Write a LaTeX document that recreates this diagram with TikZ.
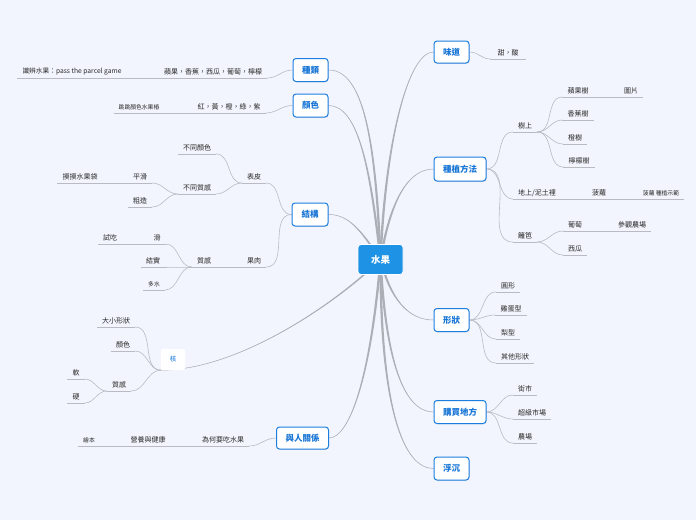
\documentclass[tikz,border=0pt]{standalone}
\usepackage{fontspec}
\setmainfont{Noto Sans CJK TC}
\usetikzlibrary{shadows}
\definecolor{bgc}{RGB}{242,245,253}
\definecolor{rootc}{RGB}{30,146,228}
\definecolor{topb}{RGB}{28,126,222}
\definecolor{topt}{RGB}{24,118,214}
\definecolor{linec}{RGB}{172,175,182}
\definecolor{txt}{RGB}{40,40,40}
\pgfdeclarelayer{back}
\pgfsetlayers{back,main}
\tikzset{
 rootbox/.style={fill=rootc, draw=white, line width=0.8pt, rounded corners=3pt, text=white, font=\fontsize{9.5}{11}\selectfont\bfseries, minimum width=45pt, minimum height=30pt, inner sep=0pt},
 topic/.style={fill=white, draw=topb, line width=1pt, rounded corners=3pt, text=topt, font=\fontsize{8.5}{10}\selectfont\bfseries, minimum height=22pt, inner sep=0pt, drop shadow={opacity=0.2,shadow xshift=0.6pt,shadow yshift=-0.8pt}},
 sub/.style={anchor=south, font=\fontsize{7}{8}\selectfont, text=txt, inner xsep=5pt, inner ysep=2.5pt},
 small/.style={sub, font=\fontsize{5.8}{7}\selectfont},
 mc/.style={draw=linec, line width=0.5pt},
 sc/.style={draw=linec!85, line width=0.6pt},
 ul/.style={draw=linec!85, line width=0.6pt},
}
% tapered main link: target, control from root, control at target
\newcommand\mainlink[3]{%
 \fill[linec] ([xshift=-1.2pt]root.center) .. controls +(#2) and +(#3) .. (#1)
   .. controls +(#3) and +(#2) .. ([xshift=1.2pt]root.center) -- cycle;
 \draw[mc] (root.center) .. controls +(#2) and +(#3) .. (#1);}
\begin{document}
\begin{tikzpicture}[x=1pt,y=1pt]
% main nodes
\node[rootbox] (root) at (380.5,-259.5) {水果};
\node[topic, minimum width=35pt, minimum height=23pt] (zl) at (310.5,-70) {種類};
\node[topic, minimum width=35pt, minimum height=23pt] (ys) at (310.5,-105.5) {顏色};
\node[topic, minimum width=36pt, minimum height=23pt] (jg) at (310,-214.5) {結構};
\node[fill=white, rounded corners=2pt, minimum width=24pt, minimum height=21pt, inner sep=0pt, text=topt, font=\fontsize{6.5}{8}\selectfont] (he) at (173,-359.5) {核};
\node[topic, minimum width=52pt] (rr) at (302.5,-438) {與人關係};
\node[topic, minimum width=35pt] (wd) at (451.5,-52) {味道};
\node[topic, minimum width=52pt, minimum height=24pt] (zz) at (460,-169) {種植方法};
\node[topic, minimum width=35pt, minimum height=23pt] (xz) at (451.5,-320) {形狀};
\node[topic, minimum width=52pt, minimum height=23pt] (gm) at (460,-412) {購買地方};
\node[topic, minimum width=35pt, minimum height=23pt] (fc) at (451.5,-468.5) {浮沉};
% left subtopics
\node[sub] (zl1) at (213,-78) {蘋果，香蕉，西瓜，葡萄，檸檬};
\node[sub, font=\fontsize{6.7}{8}\selectfont] (zl2) at (72,-78) {識辨水果：pass the parcel game};
\node[sub] (ys1) at (229,-113) {紅，黃，橙，綠，紫};
\node[small] (ys2) at (139,-113) {跳跳顏色水果樁};
\node[sub] (bp) at (254,-183) {表皮};
\node[sub] (bt1) at (197,-154) {不同顏色};
\node[sub] (bt2) at (197,-194) {不同質感};
\node[sub] (ph) at (140,-183) {平滑};
\node[sub] (mm) at (80,-183) {摸摸水果袋};
\node[sub] (cz) at (140,-207) {粗造};
\node[sub] (gr) at (254,-267) {果肉};
\node[sub] (zg) at (204,-267) {質感};
\node[sub] (hu) at (157,-244) {滑};
\node[sub] (sc) at (110,-244) {試吃};
\node[sub] (js) at (153,-267) {結實};
\node[small] (ds) at (154,-290) {多水};
\node[sub] (dx) at (116,-327) {大小形狀};
\node[sub] (hy) at (123,-351) {顏色};
\node[sub] (hz) at (119,-391) {質感};
\node[sub] (ru) at (76,-379) {軟};
\node[sub] (yg) at (76,-403) {硬};
\node[sub] (wh) at (223,-446) {為何要吃水果};
\node[sub] (yy) at (148,-446) {營養與健康};
\node[small] (hb) at (89,-446) {繪本};
% right subtopics
\node[sub, inner xsep=7pt] (tsu) at (508,-59) {甜，酸};
\node[sub] (sh) at (525,-132) {樹上};
\node[sub] (pgs) at (578,-97) {蘋果樹};
\node[sub] (tp) at (631,-97) {圖片};
\node[sub] (xjs) at (578,-120) {香蕉樹};
\node[sub] (cs) at (575,-144) {橙樹};
\node[sub] (nms) at (579,-167) {檸檬樹};
\node[sub] (dsl) at (537,-199) {地上/泥土裡};
\node[sub] (bl) at (599,-199) {菠蘿};
\node[small] (blz) at (661,-199) {菠蘿 種植示範};
\node[sub] (lb) at (525,-242) {籬笆};
\node[sub] (pt) at (575,-231) {葡萄};
\node[sub] (cg) at (632,-231) {參觀農場};
\node[sub] (xg) at (575,-255) {西瓜};
\node[sub] (yx) at (508,-292) {圓形};
\node[sub] (jd) at (511,-315) {雞蛋型};
\node[sub] (lx) at (508,-339) {梨型};
\node[sub] (qt) at (515,-363) {其他形狀};
\node[sub] (jsh) at (525,-395) {街市};
\node[sub] (cj) at (532,-419) {超級市場};
\node[sub] (nc) at (525,-443) {農場};
% underlines
\foreach \n in {zl1,zl2,ys1,ys2,bp,bt1,bt2,ph,mm,cz,gr,zg,hu,sc,js,ds,dx,hy,hz,ru,yg,wh,yy,hb,tsu,sh,pgs,tp,xjs,cs,nms,dsl,bl,blz,lb,pt,cg,xg,yx,jd,lx,qt,jsh,cj,nc}
  \draw[ul] (\n.south west) -- (\n.south east);
\begin{pgfonlayer}{back}
\fill[bgc] (0,0) rectangle (696,-520);
% root connectors
\mainlink{zl.east}{-5,120}{35,0}
\mainlink{ys.east}{-10,90}{30,0}
\mainlink{jg.east}{-20,30}{20,0}
\mainlink{he.south west}{-40,-40}{80,0}
\mainlink{rr.east}{-10,-120}{20,0}
\mainlink{wd.west}{5,120}{-25,0}
\mainlink{zz.west}{10,60}{-25,0}
\mainlink{xz.west}{10,-40}{-25,0}
\mainlink{gm.west}{5,-100}{-30,0}
\mainlink{fc.west}{0,-150}{-30,0}
% left sub connectors
\draw[sc] (zl.west) to[out=180,in=0] (zl1.south east);
\draw[sc] (zl1.south west) -- (zl2.south east);
\draw[sc] (ys.west) to[out=180,in=0] (ys1.south east);
\draw[sc] (ys1.south west) -- (ys2.south east);
\draw[sc] (jg.west) to[out=180,in=0] (bp.south east);
\draw[sc] (jg.west) to[out=180,in=0] (gr.south east);
\draw[sc] (bp.south west) to[out=180,in=0] (bt1.south east);
\draw[sc] (bp.south west) to[out=180,in=0] (bt2.south east);
\draw[sc] (bt2.south west) to[out=180,in=0] (ph.south east);
\draw[sc] (bt2.south west) to[out=180,in=0] (cz.south east);
\draw[sc] (ph.south west) -- (mm.south east);
\draw[sc] (gr.south west) -- (zg.south east);
\draw[sc] (zg.south west) to[out=180,in=0] (hu.south east);
\draw[sc] (zg.south west) to[out=180,in=0] (js.south east);
\draw[sc] (zg.south west) to[out=180,in=0] (ds.south east);
\draw[sc] (hu.south west) -- (sc.south east);
\draw[sc] (he.south west) to[out=180,in=0] (dx.south east);
\draw[sc] (he.south west) to[out=180,in=0] (hy.south east);
\draw[sc] (he.south west) to[out=180,in=0] (hz.south east);
\draw[sc] (hz.south west) to[out=180,in=0] (ru.south east);
\draw[sc] (hz.south west) to[out=180,in=0] (yg.south east);
\draw[sc] (rr.west) to[out=180,in=0] (wh.south east);
\draw[sc] (wh.south west) -- (yy.south east);
\draw[sc] (yy.south west) -- (hb.south east);
% right sub connectors
\draw[sc] (wd.east) to[out=0,in=180] (tsu.south west);
\draw[sc] (zz.east) to[out=0,in=180] (sh.south west);
\draw[sc] (zz.east) to[out=0,in=180] (dsl.south west);
\draw[sc] (zz.east) to[out=0,in=180] (lb.south west);
\draw[sc] (sh.south east) to[out=0,in=180] (pgs.south west);
\draw[sc] (sh.south east) to[out=0,in=180] (xjs.south west);
\draw[sc] (sh.south east) to[out=0,in=180] (cs.south west);
\draw[sc] (sh.south east) to[out=0,in=180] (nms.south west);
\draw[sc] (pgs.south east) -- (tp.south west);
\draw[sc] (dsl.south east) -- (bl.south west);
\draw[sc] (bl.south east) -- (blz.south west);
\draw[sc] (lb.south east) to[out=0,in=180] (pt.south west);
\draw[sc] (lb.south east) to[out=0,in=180] (xg.south west);
\draw[sc] (pt.south east) -- (cg.south west);
\draw[sc] (xz.east) to[out=0,in=180] (yx.south west);
\draw[sc] (xz.east) to[out=0,in=180] (jd.south west);
\draw[sc] (xz.east) to[out=0,in=180] (lx.south west);
\draw[sc] (xz.east) to[out=0,in=180] (qt.south west);
\draw[sc] (gm.east) to[out=0,in=180] (jsh.south west);
\draw[sc] (gm.east) to[out=0,in=180] (cj.south west);
\draw[sc] (gm.east) to[out=0,in=180] (nc.south west);
\end{pgfonlayer}
\end{tikzpicture}
\end{document}
